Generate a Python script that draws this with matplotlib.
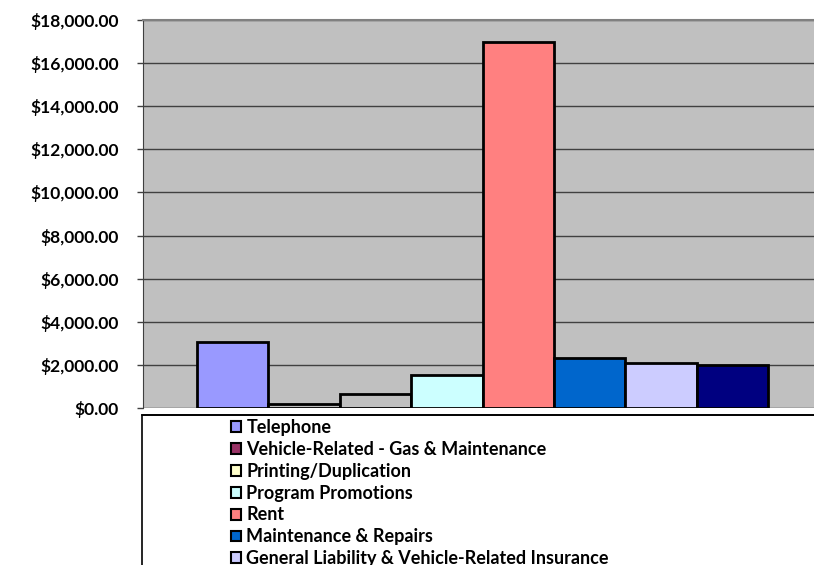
import matplotlib.pyplot as plt
from matplotlib.patches import Patch, Rectangle
from matplotlib.ticker import FuncFormatter

# expense categories, one bar each
categories = ["Telephone",
              "Vehicle-Related - Gas & Maintenance",
              "Printing/Duplication",
              "Program Promotions",
              "Rent",
              "Maintenance & Repairs",
              "General Liability & Vehicle-Related Insurance",
              "Utilities"]
amounts = [3050, 170, 660, 1530, 17000, 2320, 2090, 2000]
bar_colors = ["#9999FF", "#C0C0C0", "#C0C0C0", "#CCFFFF",
              "#FF8080", "#0066CC", "#CCCCFF", "#000080"]
legend_colors = ["#9999FF", "#993366", "#FFFFCC", "#CCFFFF",
                 "#FF8080", "#0066CC", "#CCCCFF", "#000080"]
y_ticks = list(range(0, 18001, 2000))

plt.rcParams['font.family'] = ['Lato', 'DejaVu Sans']
plt.rcParams['font.weight'] = 'bold'

W, H = 814, 565
fig = plt.figure(figsize=(W / 100, H / 100), dpi=100)
fig.patch.set_facecolor("white")

# plot area runs past the right edge of the picture
ax = fig.add_axes([143 / W, (H - 408) / H, (822 - 143) / W, (408 - 20) / H])
ax.set_facecolor("#C0C0C0")

x = list(range(len(amounts)))
ax.bar(x, amounts, width=1.0, color=bar_colors, edgecolor="black",
       linewidth=2, zorder=3)

ax.set_xlim(-1.25, 8.25)
ax.set_ylim(0, 18000)
ax.set_yticks(y_ticks)
ax.yaxis.set_major_formatter(FuncFormatter(lambda v, p: f"${v:,.2f}"))
ax.tick_params(axis="y", labelsize=12.5, length=4.5, width=1, pad=13,
               color="#404040")
ax.tick_params(axis="x", bottom=False, labelbottom=False)
ax.grid(axis="y", color="#404040", linewidth=1, zorder=0)

ax.spines["left"].set_color("#404040")
ax.spines["top"].set_color("#808080")
ax.spines["top"].set_linewidth(1.5)
ax.spines["right"].set_visible(False)
ax.spines["bottom"].set_visible(False)

# legend box below the chart, cut off by the picture edge
fig.patches.append(Rectangle((142 / W, -0.1), 1.0, (H - 415) / H + 0.1,
                             transform=fig.transFigure, facecolor="white",
                             edgecolor="black", linewidth=1.2))
fig.add_artist(plt.Line2D([142 / W, 1], [(H - 415) / H] * 2,
                          transform=fig.transFigure, color="black", lw=1.2))

handles = [Patch(facecolor=c, edgecolor="black", linewidth=1.5)
           for c in legend_colors]
fig.legend(handles, categories, loc="upper left",
           bbox_to_anchor=(231 / W, (H - 419) / H), frameon=False,
           fontsize=13, handlelength=0.55, handleheight=0.55,
           handletextpad=0.3, labelspacing=0.27, borderpad=0,
           borderaxespad=0)

fig.savefig("out.png", dpi=100)
